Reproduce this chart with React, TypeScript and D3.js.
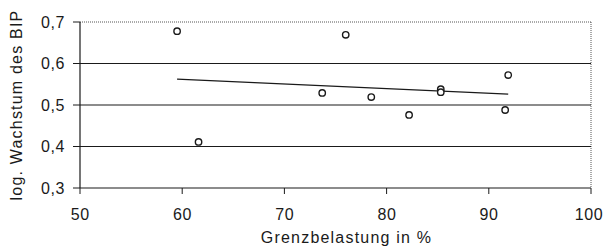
import React from "react";
import * as d3 from "d3";

// Grenzbelastung in % (x) vs. log. Wachstum des BIP (y)
const grenzbelastung = [59.5, 61.6, 76.0, 73.7, 78.5, 82.2, 85.3, 85.3, 91.9, 91.6];
const wachstum = [0.678, 0.411, 0.669, 0.529, 0.519, 0.476, 0.538, 0.531, 0.572, 0.488];
const xTicks = [50, 60, 70, 80, 90, 100];
const yTicks = [0.3, 0.4, 0.5, 0.6, 0.7];

const width = 605;
const height = 250;
const margin = { top: 22, right: 14, bottom: 62, left: 80 };
const font = "'Liberation Sans', Arial, sans-serif";
const textStyle = { fontFamily: font, fontSize: 16, letterSpacing: 1.2, fill: "#1a1a1a" };
const tickStyle = { ...textStyle, letterSpacing: 0.6 };

const App = () => {
  const innerW = width - margin.left - margin.right;
  const innerH = height - margin.top - margin.bottom;

  const x = d3.scaleLinear().domain([50, 100]).range([0, innerW]);
  const y = d3.scaleLinear().domain([0.3, 0.7]).range([innerH, 0]);

  const points = grenzbelastung.map((g, i) => ({ g, w: wachstum[i] }));

  // lineare Trendlinie (kleinste Quadrate)
  const mx = d3.mean(grenzbelastung) as number;
  const my = d3.mean(wachstum) as number;
  const slope =
    d3.sum(points, (p) => (p.g - mx) * (p.w - my)) /
    d3.sum(points, (p) => (p.g - mx) ** 2);
  const [x0, x1] = d3.extent(grenzbelastung) as [number, number];
  const trend: [number, number][] = [
    [x0, my + slope * (x0 - mx)],
    [x1, my + slope * (x1 - mx)],
  ];
  const line = d3
    .line<[number, number]>()
    .x((d) => x(d[0]))
    .y((d) => y(d[1]));

  const fmt = (v: number) => v.toFixed(1).replace(".", ",");

  return (
    <svg
      width={width}
      height={height}
      style={{ position: "absolute", left: 0, top: 0, background: "#fff" }}
    >
      <g transform={`translate(${margin.left},${margin.top})`}>
        {/* Rahmen oben/rechts gepunktet */}
        <line x1={0} x2={innerW} y1={0} y2={0} stroke="#555" strokeWidth={1} strokeDasharray="1,1" />
        <line x1={innerW} x2={innerW} y1={0} y2={innerH} stroke="#555" strokeWidth={1} strokeDasharray="1,1" />

        {/* Gitterlinien */}
        {yTicks
          .filter((t) => t > 0.3 && t < 0.7)
          .map((t) => (
            <line key={t} x1={0} x2={innerW} y1={y(t)} y2={y(t)} stroke="#1a1a1a" strokeWidth={1.2} />
          ))}

        {/* Achsen */}
        <line x1={0} x2={0} y1={0} y2={innerH} stroke="#1a1a1a" strokeWidth={1.2} />
        <line x1={0} x2={innerW} y1={innerH} y2={innerH} stroke="#1a1a1a" strokeWidth={1.2} />

        {yTicks.map((t) => (
          <g key={t} transform={`translate(0,${y(t)})`}>
            <line x1={-7} x2={0} stroke="#1a1a1a" strokeWidth={1} />
            <text x={-15} dy="0.36em" textAnchor="end" style={tickStyle}>
              {fmt(t)}
            </text>
          </g>
        ))}

        {xTicks.map((t, i) => (
          <g key={t} transform={`translate(${x(t)},${innerH})`}>
            <line y1={0} y2={6} stroke="#1a1a1a" strokeWidth={1} />
            <text
              x={i === xTicks.length - 1 ? -2 : 0.3}
              y={32}
              textAnchor="middle"
              style={tickStyle}
            >
              {t}
            </text>
          </g>
        ))}

        {/* Trendlinie */}
        <path d={line(trend) ?? ""} fill="none" stroke="#1a1a1a" strokeWidth={1.2} />

        {/* Punkte */}
        {points.map((p, i) => (
          <circle
            key={i}
            cx={x(p.g)}
            cy={y(p.w)}
            r={3.2}
            fill="#fff"
            stroke="#1a1a1a"
            strokeWidth={1.4}
          />
        ))}

        <text x={innerW / 2 + 11} y={innerH + 55} textAnchor="middle" style={textStyle}>
          Grenzbelastung in %
        </text>
      </g>
      <text
        transform={`translate(22,${margin.top + innerH / 2}) rotate(-90)`}
        textAnchor="middle"
        style={textStyle}
      >
        log. Wachstum des BIP
      </text>
    </svg>
  );
};

export default App;
